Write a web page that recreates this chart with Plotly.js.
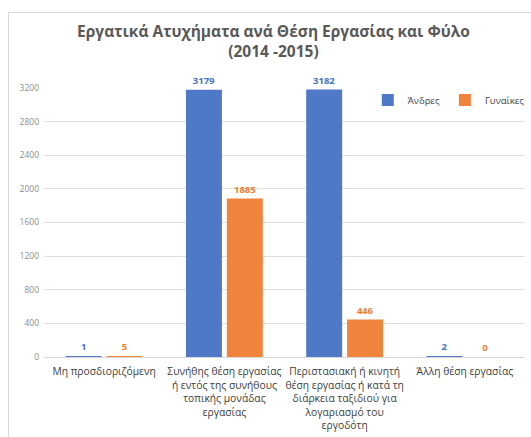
<!DOCTYPE html>
<html><head><meta charset="utf-8">
<script src="https://cdn.plot.ly/plotly-3.0.1.min.js"></script>
<style>
html,body{margin:0;padding:0;background:#fff;}
#frame{position:absolute;left:8px;top:12px;width:540px;height:440px;border:1px solid #d9d9d9;box-sizing:border-box;}
#chart{position:absolute;left:0;top:0;width:531px;height:437px;}
</style>
</head><body>
<div id="frame"></div>
<div id="chart"></div>
<script>
const categories = [
  "Μη προσδιοριζόμενη",
  "Συνήθης θέση εργασίας<br>ή εντός της συνήθους<br>τοπικής μονάδας<br>εργασίας",
  "Περιστασιακή ή κινητή<br>θέση εργασίας ή κατά τη<br>διάρκεια ταξιδιού για<br>λογαριασμό του<br>εργοδότη",
  "Άλλη θέση εργασίας"
];
const men = [1, 3179, 3182, 2];
const women = [5, 1885, 446, 0];
const yTicks = [0, 400, 800, 1200, 1600, 2000, 2400, 2800, 3200];

const blue = "#4f79c6", orange = "#f0843d";
const traces = [
  {type:"bar", name:"Άνδρες", x:categories, y:men, marker:{color:blue, line:{width:0}},
   text:men.map(String), textposition:"outside", cliponaxis:false,
   textfont:{color:"#4472c4", size:9.5, family:"Open Sans", weight:"bold"}},
  {type:"bar", name:"Γυναίκες", x:categories, y:women, marker:{color:orange, line:{width:0}},
   text:women.map(String), textposition:"outside", cliponaxis:false,
   textfont:{color:"#ed7d31", size:9.5, family:"Open Sans", weight:"bold"}}
];
const layout = {
  width:531, height:437,
  paper_bgcolor:"rgba(0,0,0,0)", plot_bgcolor:"rgba(0,0,0,0)",
  margin:{l:44, r:6, t:88, b:80, autoexpand:false},
  font:{family:"Open Sans", color:"#595959"},
  title:{text:"<b>Εργατικά Ατυχήματα ανά Θέση Εργασίας και Φύλο<br>(2014 -2015)</b>",
         x:0.515, xanchor:"center", y:0.947, yanchor:"top", yref:"container",
         pad:{t:14},
         font:{size:15.5, color:"#595959", family:"Open Sans"}},
  barmode:"group", bargap:0.32, bargroupgap:0.12,
  xaxis:{tickfont:{size:10.3, color:"#404040"}, showline:true, linecolor:"#d9d9d9",
         ticks:"", automargin:false, ticklabelstandoff:5},
  yaxis:{range:[0,3200], tickvals:yTicks, ticktext:yTicks.map(String),
         tickfont:{size:8.5, color:"#8c8c8c"}, gridcolor:"#e0e0e0", zeroline:false,
         ticks:"", automargin:false, ticklabelstandoff:4},
  showlegend:true,
  legend:{orientation:"h", x:1.01, xanchor:"right", y:0.955, yanchor:"middle",
          font:{size:9.5, color:"#404040"}, itemwidth:30,
          bgcolor:"rgba(0,0,0,0)"}
};
Plotly.newPlot("chart", traces, layout, {displayModeBar:false});
</script>
</body></html>
